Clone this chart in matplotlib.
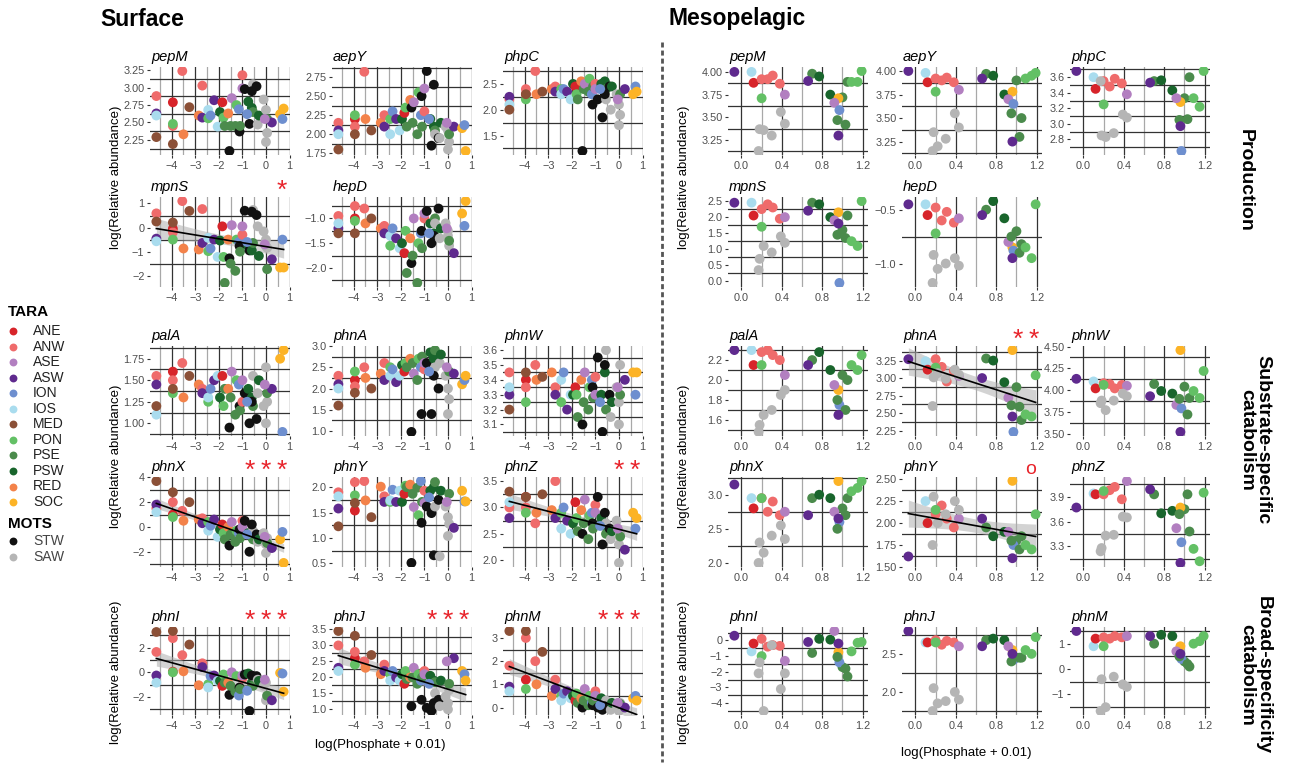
import numpy as np
import matplotlib
matplotlib.use("Agg")
import matplotlib.pyplot as plt

plt.rcParams['font.family'] = ['Liberation Sans', 'DejaVu Sans']

# ---------------- data ----------------
REGIONS = ['ANE', 'ANW', 'ASE', 'ASW', 'ION', 'IOS', 'MED', 'PON', 'PSE', 'PSW', 'RED', 'SOC']
MOTS = ['STW', 'SAW']
COLORS = {
    'ANE': '#d7242a', 'ANW': '#ef6b6b', 'ASE': '#b27fc0', 'ASW': '#5f2a8e',
    'ION': '#6e8fcf', 'IOS': '#a9dcee', 'MED': '#8b5037', 'PON': '#63c065',
    'PSE': '#4b8b4c', 'PSW': '#19652c', 'RED': '#f3824a', 'SOC': '#fcb326',
    'STW': '#111111', 'SAW': '#b5b5b5',
}

surf_x = [-4.65, -4.65, -4.65, -4.65, -3.95, -3.95, -3.95, -3.95, -3.55, -3.5,
          -3.25, -2.85, -2.7, -2.7, -2.45, -2.45, -2.35, -2.2, -2.05, -1.95,
          -1.85, -1.8, -1.75, -1.6, -1.55, -1.5, -1.45, -1.3, -1.25, -1.15,
          -1.12, -1.1, -1.0, -1.0, -0.9, -0.75, -0.7, -0.6, -0.55, -0.55,
          -0.6, -0.4, -0.35, -0.3, -0.1, 0.0, 0.0, 0.05, 0.05, 0.25,
          0.6, 0.7, 0.75, -0.05, -0.8]
surf_group = ['ANW', 'ASW', 'IOS', 'MED', 'ANE', 'ANW', 'PON', 'MED', 'ANW', 'RED',
              'MED', 'RED', 'ANW', 'ASW', 'PON', 'IOS', 'ION', 'ASW', 'IOS', 'PSW',
              'ANE', 'PON', 'PSE', 'RED', 'STW', 'PSE', 'ASE', 'PSE', 'PON', 'ION',
              'STW', 'PSE', 'ANW', 'ASE', 'STW', 'PSW', 'STW', 'PSW', 'PSE', 'SAW',
              'STW', 'STW', 'SAW', 'PSW', 'SAW', 'SAW', 'SAW', 'SAW', 'PSE', 'ASW',
              'SOC', 'ION', 'SOC', 'ASE', 'ION']

surf_pepM = [2.88, 2.63, 2.60, 2.29, 2.79, 2.45, 2.48, 2.19, 3.24, 2.33,
             2.72, 2.60, 3.03, 2.57, 2.56, 2.68, 2.60, 2.82, 2.44, 2.65,
             2.79, 2.57, 2.45, 2.63, 2.09, 2.45, 2.85, 2.45, 2.75, 2.69,
             2.37, 2.45, 3.18, 2.99, 2.98, 2.80, 2.48, 2.71, 2.65, 3.05,
             2.95, 3.02, 2.47, 2.60, 2.83, 2.22, 2.68, 2.35, 2.55, 2.50,
             2.62, 2.55, 2.70, 2.55, 2.62]
surf_aepY = [2.15, 2.05, 2.0, 1.8, 2.2, 2.1, 2.25, 2.0, 2.82, 2.2,
             2.05, 2.15, 2.25, 2.1, 2.2, 2.0, 2.3, 2.2, 2.05, 2.2,
             2.28, 2.35, 2.1, 2.45, 2.35, 2.15, 2.42, 2.0, 2.55, 2.25,
             2.5, 2.1, 2.3, 2.6, 2.83, 2.2, 1.85, 2.1, 2.05, 2.0,
             2.65, 1.95, 1.95, 2.15, 2.1, 1.8, 2.05, 1.9, 2.0, 2.1,
             2.08, 2.12, 1.78, 2.15, 2.2]
surf_phpC = [2.2, 2.25, 2.1, 2.0, 2.3, 2.4, 2.2, 2.3, 2.75, 2.3,
             2.35, 2.4, 2.45, 2.35, 2.4, 2.3, 2.4, 2.35, 2.2, 2.5,
             2.45, 2.3, 2.2, 2.55, 1.2, 2.4, 2.5, 2.35, 2.6, 2.3,
             2.1, 2.45, 2.5, 2.4, 2.2, 2.5, 1.85, 2.55, 2.4, 2.2,
             2.3, 2.45, 2.0, 2.45, 2.3, 1.7, 2.1, 1.9, 2.3, 2.4,
             2.3, 2.45, 2.35, 2.2, 2.4]
surf_mpnS = [0.59, -0.46, -0.57, 0.25, -0.05, -0.2, -0.5, 0.21, 1.1, -0.87,
             0.69, -0.91, 0.77, -0.64, -0.98, -0.43, -0.87, -0.5, -1.22, -0.54,
             0.05, -1.22, -2.3, -0.5, -1.28, -1.5, 0.1, -1.8, -0.5, -0.6,
             -0.77, -1.0, -0.3, 0.05, 0.7, -0.77, -0.95, -0.95, -0.64, 0.73,
             0.66, 0.52, 0.05, -1.18, -0.16, -0.5, -0.77, -0.84, -1.73, -1.32,
             -1.66, -0.5, -1.66, -0.7, -0.6]
surf_hepD = [-0.95, -1.2, -1.1, -1.3, -1.0, -0.75, -1.05, -1.3, -0.8, -1.1,
             -1.0, -1.2, -1.15, -1.3, -1.55, -1.35, -1.2, -1.4, -1.6, -1.5,
             -1.7, -1.25, -2.1, -1.4, -1.9, -1.75, -1.0, -2.3, -1.5, -1.3,
             -1.25, -1.6, -1.0, -0.9, -0.85, -1.1, -1.5, -1.3, -1.0, -1.1,
             -1.35, -0.8, -1.4, -1.2, -1.1, -1.35, -1.25, -1.55, -1.45, -1.7,
             -0.9, -1.15, -0.65, -1.2, -1.3]
surf_palA = [1.55, 1.45, 1.1, 1.2, 1.6, 1.5, 1.35, 1.4, 1.7, 1.3,
             1.55, 1.45, 1.4, 1.35, 1.25, 1.3, 1.4, 1.5, 1.55, 1.3,
             1.55, 1.2, 1.4, 1.4, 0.95, 1.3, 1.6, 1.1, 1.5, 1.45,
             1.2, 1.15, 1.25, 1.5, 1.35, 1.4, 1.0, 1.3, 1.2, 1.55,
             1.25, 1.05, 1.35, 1.5, 1.2, 1.0, 1.65, 1.25, 1.35, 1.4,
             1.75, 0.9, 1.85, 1.45, 1.25]
surf_phnA = [2.3, 2.1, 2.0, 1.6, 2.2, 2.05, 2.4, 1.9, 2.5, 2.25,
             2.0, 2.35, 2.6, 2.2, 2.5, 2.3, 2.45, 2.15, 2.3, 2.55,
             2.4, 2.6, 2.5, 2.7, 0.98, 2.6, 2.35, 2.2, 2.7, 2.5,
             1.4, 2.75, 2.45, 2.6, 2.6, 2.85, 1.4, 2.7, 2.9, 2.5,
             2.3, 2.0, 2.6, 2.8, 2.3, 1.4, 2.0, 1.75, 2.4, 2.35,
             2.1, 2.2, 2.3, 2.5, 2.4]
surf_phnW = [3.45, 3.3, 3.35, 3.2, 3.4, 3.35, 3.25, 3.45, 3.5, 3.4,
             3.42, 3.45, 3.35, 3.3, 3.25, 3.4, 3.45, 3.2, 3.3, 3.3,
             3.35, 3.3, 3.15, 3.4, 3.1, 3.25, 3.45, 3.2, 3.35, 3.4,
             3.35, 3.28, 3.42, 3.3, 3.55, 3.3, 3.05, 3.45, 3.2, 3.6,
             3.5, 3.3, 3.15, 3.25, 3.35, 3.1, 3.25, 3.5, 3.3, 3.4,
             3.45, 3.3, 3.45, 3.35, 3.25]
surf_phnX = [1.5, 1.8, 1.2, 3.7, 1.0, 2.0, 0.8, 2.8, 1.3, 0.5,
             2.0, 0.6, 0.7, 0.3, 0.4, -0.3, 0.1, 0.6, -0.8, -0.2,
             0.2, -0.5, -1.0, 0.0, -1.5, -0.6, 0.4, -1.2, -0.3, -0.5,
             -0.2, -0.9, 0.5, 0.0, 0.5, -0.5, -2.0, -0.8, -1.0, -0.3,
             0.2, -0.6, -1.2, -1.0, -0.5, -2.1, -1.4, -0.9, -1.3, -1.7,
             -1.0, -0.4, -2.9, -0.8, -0.6]
surf_phnY = [1.90, 1.58, 1.82, 1.23, 1.54, 2.10, 1.84, 1.69, 2.12, 1.74,
             1.41, 2.01, 1.82, 1.71, 1.71, 1.74, 1.95, 1.71, 1.93, 1.71,
             1.87, 2.03, 2.00, 2.05, 0.51, 1.87, 1.61, 1.99, 1.45, 2.12,
             1.30, 1.71, 1.93, 1.69, 1.62, 1.93, 1.49, 2.00, 2.10, 1.62,
             0.66, 1.75, 0.64, 1.93, 1.62, 1.41, 1.04, 1.28, 1.87, 1.20,
             1.93, 1.72, 1.72, 1.71, 1.80]
surf_phnZ = [3.0, 2.8, 3.1, 3.3, 3.2, 3.0, 2.9, 3.2, 2.7, 2.9,
             3.25, 2.95, 3.5, 2.8, 2.9, 2.6, 3.0, 2.75, 2.5, 2.7,
             3.1, 2.8, 2.55, 2.95, 2.5, 2.7, 3.15, 2.4, 2.85, 2.9,
             2.7, 2.6, 3.05, 2.9, 3.2, 2.8, 2.3, 2.65, 2.5, 2.7,
             2.9, 2.6, 2.4, 2.55, 2.75, 1.95, 2.3, 2.5, 2.45, 2.2,
             2.9, 2.6, 2.8, 2.6, 2.65]
surf_phnI = [1.65, -0.26, -0.84, 3.27, 0.05, 2.77, 0.0, 3.35, 1.39, 0.08,
             2.25, -1.05, 0.73, 0.42, -0.97, -1.23, -0.31, -0.26, -0.7, -0.7,
             -1.1, -0.18, -0.84, -0.84, -1.83, -1.1, 0.0, -1.57, -0.31, -1.88,
             -1.23, -1.36, -0.5, -0.25, -0.18, -0.1, -3.14, -0.84, -1.1, -0.31,
             -0.26, -0.31, -0.6, -0.7, -1.1, -2.27, -0.84, -1.88, -1.9, -2.27,
             -0.05, -0.1, -1.57, -0.6, -1.5]
surf_phnJ = [3.0, 2.3, 2.2, 3.45, 2.6, 2.8, 2.4, 3.3, 2.5, 2.3,
             2.7, 2.1, 2.4, 2.2, 2.1, 1.9, 2.2, 2.0, 1.9, 2.1,
             1.8, 2.2, 1.95, 2.0, 1.1, 2.0, 2.3, 1.8, 2.1, 1.9,
             1.3, 2.0, 2.2, 2.1, 1.05, 2.05, 0.95, 1.9, 1.85, 1.5,
             1.2, 1.3, 1.1, 1.9, 1.4, 1.0, 1.2, 1.6, 1.8, 2.6,
             2.2, 2.1, 1.9, 2.5, 1.8]
surf_phnM = [1.8, 0.9, 0.7, 3.3, 1.2, 3.0, 0.8, 3.3, 2.0, 1.0,
             2.4, 0.5, 1.2, 0.8, 0.5, 0.3, 0.6, 0.7, 0.4, 0.5,
             0.3, 0.6, 0.2, 0.4, 0.0, 0.3, 0.8, 0.1, 0.5, 0.2,
             0.1, 0.3, 0.7, 0.5, 0.0, 0.4, -0.1, 0.2, 0.1, 0.3,
             0.05, 0.0, -0.1, 0.2, 0.1, -0.15, 0.0, 0.2, 0.15, 0.0,
             0.4, 0.5, 0.3, 0.2, 0.1]

meso_x = [-0.07, 0.10, 0.12, 0.20, 0.26, 0.31, 0.38, 0.20, 0.43, 0.39,
          0.43, 0.18, 0.22, 0.30, 0.17, 0.70, 0.77, 0.66, 0.88, 1.00,
          0.96, 0.92, 0.97, 0.95, 1.03, 0.96, 1.19, 1.05, 1.09, 1.15]
meso_group = ['ASW', 'IOS', 'ANE', 'ANW', 'ANW', 'ANW', 'ANW', 'PON', 'ASE', 'SAW',
              'SAW', 'SAW', 'SAW', 'SAW', 'SAW', 'PSE', 'PSW', 'ASW', 'PSW', 'PSE',
              'SOC', 'ASE', 'ION', 'PSE', 'PSE', 'ASW', 'PON', 'PSE', 'PON', 'PON']

meso_pepM = [4.0, 4.0, 3.88, 3.92, 3.92, 3.96, 3.87, 3.71, 3.75, 3.56,
             3.43, 3.37, 3.36, 3.30, 3.13, 3.98, 3.95, 3.90, 3.75, 3.72,
             3.71, 3.66, 3.58, 3.47, 3.42, 3.30, 4.01, 3.89, 3.89, 3.89]
meso_aepY = [4.0, 3.98, 3.88, 3.92, 3.9, 3.93, 3.88, 3.78, 3.8, 3.55,
             3.4, 3.35, 3.2, 3.28, 3.15, 3.97, 3.95, 3.92, 3.75, 3.9,
             3.78, 3.7, 3.65, 3.55, 3.3, 3.25, 3.98, 3.5, 3.92, 3.95]
meso_phpC = [3.68, 3.6, 3.45, 3.55, 3.48, 3.58, 3.52, 3.25, 3.38, 3.12,
             3.08, 2.85, 2.83, 2.88, 3.55, 3.55, 3.56, 3.53, 3.43, 3.33,
             3.28, 3.33, 2.65, 3.05, 3.06, 2.97, 3.68, 3.6, 3.33, 3.22]
meso_mpnS = [2.45, 2.45, 2.05, 2.25, 2.4, 2.3, 1.95, 1.7, 2.0, 1.4,
             1.2, 0.7, 1.1, 0.9, 0.35, 2.45, 2.4, 2.2, 2.0, 1.6,
             2.15, 1.9, -0.05, 1.45, 1.35, 1.8, 2.5, 2.05, 1.25, 1.1]
meso_hepD = [-0.45, -0.45, -0.55, -0.48, -0.6, -0.52, -0.62, -0.72, -0.58, -0.95,
             -1.02, -0.92, -1.05, -1.0, -1.18, -0.5, -0.42, -0.55, -0.58, -0.7,
             -0.85, -0.8, -0.88, -0.75, -0.9, -0.95, -0.45, -0.82, -0.85, -0.95]
meso_palA = [2.3, 2.3, 2.15, 2.28, 2.3, 2.25, 2.2, 2.15, 2.05, 1.85,
             1.9, 1.55, 1.65, 1.7, 1.48, 2.2, 2.28, 2.15, 2.1, 2.05,
             1.9, 1.95, 1.75, 1.8, 1.7, 1.65, 2.25, 2.0, 2.15, 2.1]
meso_phnA = [3.27, 3.24, 3.12, 3.27, 3.16, 2.95, 3.1, 3.15, 3.03, 3.12,
             3.05, 3.01, 3.07, 2.99, 2.6, 3.28, 3.25, 3.0, 2.94, 2.87,
             3.4, 2.72, 2.23, 2.61, 2.59, 2.45, 3.04, 2.40, 2.48, 2.45]
meso_phnW = [4.13, 4.10, 4.02, 4.08, 4.07, 4.02, 4.06, 4.06, 4.05, 3.96,
             3.93, 3.88, 3.77, 3.88, 3.85, 4.07, 3.99, 3.93, 3.96, 4.04,
             4.46, 3.83, 3.79, 3.90, 3.72, 3.52, 4.22, 3.91, 3.99, 3.91]
meso_phnX = [3.15, 2.95, 2.8, 2.95, 2.75, 2.9, 2.7, 2.95, 2.75, 2.55,
             2.35, 2.3, 2.15, 2.4, 2.0, 2.95, 3.0, 2.7, 2.95, 2.8,
             3.2, 2.75, 2.6, 2.5, 2.7, 2.65, 3.2, 2.95, 3.05, 3.1]
meso_phnY = [1.62, 2.25, 2.0, 2.1, 2.2, 2.05, 1.95, 2.15, 2.05, 2.25,
             2.15, 2.3, 2.0, 2.1, 1.75, 1.95, 1.85, 2.05, 1.9, 1.8,
             2.48, 1.9, 1.75, 1.8, 1.7, 1.6, 2.1, 1.85, 1.75, 1.7]
meso_phnZ = [3.77, 3.94, 3.93, 3.93, 3.98, 4.02, 3.87, 3.97, 4.09, 3.66,
             3.65, 3.28, 3.43, 3.44, 3.24, 3.93, 3.70, 3.99, 3.73, 3.75,
             3.77, 3.52, 3.35, 3.69, 3.93, 3.10, 3.95, 3.48, 3.27, 3.12]
meso_phnI = [0.3, -0.7, -0.2, 0.1, -0.4, -0.3, -0.35, -1.0, -1.3, -3.1,
             -2.1, -1.4, -4.5, -0.3, -2.1, -0.8, 0.1, -0.1, 0.05, -1.7,
             -0.75, 0.6, -1.4, -1.05, -1.8, -0.2, -0.1, -2.3, -0.7, -0.15]
meso_phnJ = [2.8, 2.65, 2.65, 2.68, 2.62, 2.67, 2.65, 2.65, 2.6, 2.0,
             1.9, 2.05, 1.85, 1.88, 1.75, 2.68, 2.7, 2.6, 2.68, 2.45,
             2.55, 2.6, 2.42, 2.4, 2.45, 2.5, 2.72, 2.45, 2.55, 2.5]
meso_phnM = [1.5, 0.9, 1.2, 1.25, 1.2, 1.3, 1.25, 0.9, 1.3, -0.6,
             -0.7, -0.4, -1.5, -0.3, -1.65, 1.0, 1.35, 1.3, 1.3, 0.3,
             0.9, 0.7, 0.4, 0.5, 0.2, 0.6, 1.3, 0.1, 1.0, 1.1]

surf_xticks = [-4, -3, -2, -1, 0, 1]
meso_xticks = [0.0, 0.4, 0.8, 1.2]

surf_yticks = {
    'pepM': [2.25, 2.5, 2.75, 3.0, 3.25], 'aepY': [1.75, 2.0, 2.25, 2.5, 2.75],
    'phpC': [1.5, 2.0, 2.5], 'mpnS': [-2, -1, 0, 1], 'hepD': [-2.0, -1.5, -1.0],
    'palA': [1.0, 1.25, 1.5, 1.75], 'phnA': [1.0, 1.5, 2.0, 2.5, 3.0],
    'phnW': [3.1, 3.2, 3.3, 3.4, 3.5, 3.6], 'phnX': [-2, 0, 2, 4],
    'phnY': [0.5, 1.0, 1.5, 2.0], 'phnZ': [2.0, 2.5, 3.0, 3.5],
    'phnI': [-2, 0, 2], 'phnJ': [1.0, 1.5, 2.0, 2.5, 3.0, 3.5], 'phnM': [0, 1, 2, 3],
}
meso_yticks = {
    'pepM': [3.25, 3.5, 3.75, 4.0], 'aepY': [3.25, 3.5, 3.75, 4.0],
    'phpC': [2.8, 3.0, 3.2, 3.4, 3.6], 'mpnS': [0.0, 0.5, 1.0, 1.5, 2.0, 2.5],
    'hepD': [-1.0, -0.5], 'palA': [1.6, 1.8, 2.0, 2.2],
    'phnA': [2.25, 2.5, 2.75, 3.0, 3.25], 'phnW': [3.5, 3.75, 4.0, 4.25, 4.5],
    'phnX': [2.0, 2.5, 3.0], 'phnY': [1.5, 1.75, 2.0, 2.25, 2.5],
    'phnZ': [3.3, 3.6, 3.9], 'phnI': [-4, -3, -2, -1, 0], 'phnJ': [2.0, 2.5],
    'phnM': [-1, 0, 1],
}
surf_sig = {'mpnS': '*', 'phnX': '***', 'phnZ': '**', 'phnI': '***', 'phnJ': '***', 'phnM': '***'}
meso_sig = {'phnA': '**', 'phnY': 'o'}

surf_y = {'pepM': surf_pepM, 'aepY': surf_aepY, 'phpC': surf_phpC, 'mpnS': surf_mpnS,
          'hepD': surf_hepD, 'palA': surf_palA, 'phnA': surf_phnA, 'phnW': surf_phnW,
          'phnX': surf_phnX, 'phnY': surf_phnY, 'phnZ': surf_phnZ, 'phnI': surf_phnI,
          'phnJ': surf_phnJ, 'phnM': surf_phnM}
meso_y = {'pepM': meso_pepM, 'aepY': meso_aepY, 'phpC': meso_phpC, 'mpnS': meso_mpnS,
          'hepD': meso_hepD, 'palA': meso_palA, 'phnA': meso_phnA, 'phnW': meso_phnW,
          'phnX': meso_phnX, 'phnY': meso_phnY, 'phnZ': meso_phnZ, 'phnI': meso_phnI,
          'phnJ': meso_phnJ, 'phnM': meso_phnM}

ROWS = [['pepM', 'aepY', 'phpC'], ['mpnS', 'hepD'], ['palA', 'phnA', 'phnW'],
        ['phnX', 'phnY', 'phnZ'], ['phnI', 'phnJ', 'phnM']]

# ---------------- layout (pixels) ----------------
W, H = 1292, 770
fig = plt.figure(figsize=(W / 100, H / 100), dpi=100)
fig.patch.set_facecolor('white')

row_top = [67, 197, 346, 477, 627]
row_h = [88, 90, 90, 90, 88]
surf_left = [150, 332, 503]
meso_left = [728, 902, 1070]
panel_w = 140

overlay = fig.add_axes([0, 0, 1, 1], zorder=10)
overlay.set_xlim(0, W)
overlay.set_ylim(H, 0)
overlay.axis('off')
overlay.patch.set_alpha(0)

DARK = '#333333'
LIGHT = '#a8a8a8'
TXT = '#4d4d4d'
RED = '#e8242b'


def fmt_ticks(ticks):
    d = 0
    for dd in range(4):
        if all(abs(round(t, dd) - t) < 1e-9 for t in ticks):
            d = dd
            break
    return [f"{t:.{d}f}".replace('-', '\u2212') for t in ticks]


def draw_panel(left, top, height, xs, groups, ys, xticks, xstep, yticks, name, sig):
    ax = fig.add_axes([left / W, 1 - (top + height) / H, panel_w / W, height / H])
    xs = np.asarray(xs, float)
    ys = np.asarray(ys, float)
    xr = xs.max() - xs.min()
    xlim = (xs.min() - 0.05 * xr, xs.max() + 0.05 * xr)
    yr = ys.max() - ys.min()
    ylim = (ys.min() - 0.05 * yr, ys.max() + 0.05 * yr)
    ax.set_xlim(xlim)
    ax.set_ylim(ylim)
    for s in ax.spines.values():
        s.set_visible(False)
    # grid
    for t in xticks:
        if xlim[0] <= t <= xlim[1]:
            ax.axvline(t, color=DARK, lw=0.9, zorder=1)
    m = xticks[0] - xstep / 2
    while m <= xlim[1]:
        if m >= xlim[0]:
            ax.axvline(m, color=LIGHT, lw=0.9, zorder=1)
        m += xstep
    ystep = yticks[1] - yticks[0]
    m = yticks[0] - ystep / 2
    while m <= ylim[1]:
        if m >= ylim[0]:
            ax.axhline(m, color=DARK, lw=0.9, zorder=1)
        m += ystep
    ax.set_xticks(xticks)
    ax.set_xticklabels(fmt_ticks(xticks))
    ax.set_yticks(yticks)
    ax.set_yticklabels(fmt_ticks(yticks))
    ax.tick_params(length=2.5, width=0.8, color=DARK, labelsize=7.8, labelcolor=TXT, pad=1.5)
    # linear smooth with 95% band
    if sig is not None:
        n = len(xs)
        b, a = np.polyfit(xs, ys, 1)
        res = ys - (a + b * xs)
        s_err = np.sqrt(np.sum(res ** 2) / (n - 2))
        xx = np.linspace(xs.min(), xs.max(), 80)
        sxx = np.sum((xs - xs.mean()) ** 2)
        se = s_err * np.sqrt(1.0 / n + (xx - xs.mean()) ** 2 / sxx)
        tval = 1.96 + 2.4 / (n - 2)
        yy = a + b * xx
        ax.fill_between(xx, yy - tval * se, yy + tval * se, color='#b0b0b0', alpha=0.55,
                        lw=0, zorder=2)
    cols = [COLORS[g] for g in groups]
    ax.scatter(xs, ys, c=cols, s=50, linewidths=0, zorder=3)
    if sig is not None:
        ax.plot(xx, yy, color='black', lw=1.2, zorder=4)
        if sig == 'o':
            overlay.text(left + panel_w - 6, top - 8, 'o', ha='right', va='center',
                         color=RED, fontsize=14)
        else:
            for k in range(len(sig)):
                overlay.text(left + panel_w - 8 - 16 * (len(sig) - 1 - k), top - 6, '*',
                             ha='center', va='center', color=RED, fontsize=19)
    overlay.text(left + 1, top - 10, name, ha='left', va='center', fontsize=10.5,
                 style='italic', color='black')
    return ax


for r, genes in enumerate(ROWS):
    for c, g in enumerate(genes):
        draw_panel(surf_left[c], row_top[r], row_h[r], surf_x, surf_group, surf_y[g],
                   surf_xticks, 1.0, surf_yticks[g], g, surf_sig.get(g))
        draw_panel(meso_left[c], row_top[r], row_h[r], meso_x, meso_group, meso_y[g],
                   meso_xticks, 0.4, meso_yticks[g], g, meso_sig.get(g))

# section titles
overlay.text(100, 19, 'Surface', fontsize=16.5, fontweight='bold', ha='left', va='center')
overlay.text(668, 19, 'Mesopelagic', fontsize=16.5, fontweight='bold', ha='left', va='center')

# divider
overlay.plot([662, 662], [42, 762], color='#555555', lw=2, ls=(0, (1.8, 1.1)))

# axis titles
for xpos in (116, 684):
    for ycen in (177, 456, 672):
        overlay.text(xpos, ycen, 'log(Relative abundance)', rotation=90, ha='center',
                     va='center', fontsize=9.5, color='black')
overlay.text(380, 745, 'log(Phosphate + 0.01)', ha='center', va='center', fontsize=9.5)
overlay.text(966, 753, 'log(Phosphate + 0.01)', ha='center', va='center', fontsize=9.5)

# row strip labels
overlay.text(1245, 180, 'Production', rotation=270, ha='center', va='center',
             fontsize=14, fontweight='bold')
overlay.text(1255, 440, 'Substrate-specific\ncatabolism', rotation=270, ha='center',
             va='center', fontsize=14, fontweight='bold', linespacing=0.95)
overlay.text(1255, 675, 'Broad-specificity\ncatabolism', rotation=270, ha='center',
             va='center', fontsize=14, fontweight='bold', linespacing=0.95)

# legend
overlay.text(8, 312, 'TARA', fontsize=11, fontweight='bold', ha='left', va='center')
for i, reg in enumerate(REGIONS):
    yy = 331 + i * 15.55
    overlay.scatter([13], [yy], s=32, color=COLORS[reg], linewidths=0)
    overlay.text(33, yy, reg, fontsize=10, ha='left', va='center', color='#222222')
overlay.text(8, 524, 'MOTS', fontsize=11, fontweight='bold', ha='left', va='center')
for i, mo in enumerate(MOTS):
    yy = 541 + i * 16
    overlay.scatter([13], [yy], s=32, color=COLORS[mo], linewidths=0)
    overlay.text(33, yy, mo, fontsize=10, ha='left', va='center', color='#444444')

fig.savefig('out.png', dpi=100, facecolor='white')
